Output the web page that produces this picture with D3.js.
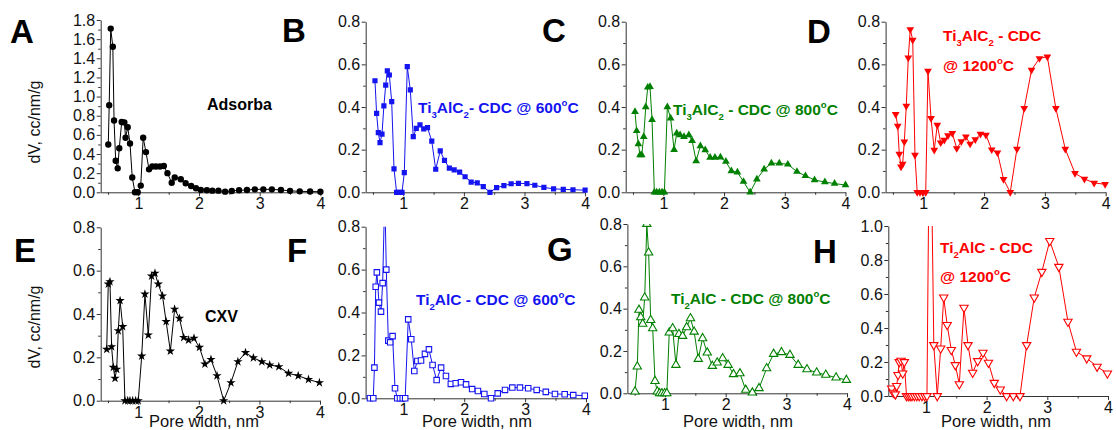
<!DOCTYPE html>
<html>
<head>
<meta charset="utf-8">
<script src="https://cdn.jsdelivr.net/npm/d3@7"></script>
<style>
  body { margin: 0; background: #fff; }
  svg { display: block; font-family: "Liberation Sans", Arial, sans-serif; }
  text { white-space: pre; }
</style>
</head>
<body>
<svg id="chart" width="1116" height="430"></svg>
<script>
// ----- data (pore width in nm, dV in cc/nm/g) -----

const adsorbaX = [0.505,0.52,0.545,0.58,0.60,0.627,0.66,0.686,0.726,0.77,0.79,0.825,0.863,0.90,0.945,0.99,1.04,1.08,1.126,1.176,1.23,1.29,1.357,1.42,1.48,1.55,1.60,1.70,1.78,1.87,1.95,2.03,2.13,2.22,2.32,2.43,2.54,2.66,2.79,2.92,3.06,3.20,3.35,3.50,3.66,3.83,4.0];
const adsorbaY = [0.50,0.91,1.71,1.52,0.75,0.33,0.25,0.46,0.735,0.73,0.57,0.68,0.51,0.155,0,0,0.07,0.57,0.42,0.24,0.27,0.27,0.27,0.275,0.20,0.10,0.155,0.136,0.094,0.066,0.042,0.024,0.021,0.017,0.017,0.007,0.014,0.021,0.024,0.031,0.031,0.031,0.024,0.015,0.01,0.008,0.006];

const ti3c600X = [0.533,0.56,0.588,0.616,0.649,0.68,0.71,0.737,0.77,0.809,0.847,0.89,0.935,0.979,1.017,1.066,1.116,1.165,1.215,1.276,1.337,1.40,1.47,1.535,1.61,1.68,1.76,1.84,1.93,2.02,2.12,2.22,2.32,2.43,2.54,2.66,2.78,2.90,3.04,3.17,3.32,3.48,3.64,3.80,4.0];
const ti3c600Y = [0.523,0.37,0.28,0.233,0.273,0.405,0.503,0.569,0.55,0.425,0.11,0,0,0,0.092,0.589,0.48,0.261,0.30,0.316,0.297,0.303,0.24,0.108,0.194,0.15,0.113,0.105,0.095,0.073,0.048,0.044,0.027,0,0.022,0.031,0.04,0.042,0.041,0.033,0.023,0.016,0.014,0.012,0.01];

const ti3c800X = [0.533,0.56,0.588,0.616,0.644,0.677,0.71,0.743,0.78,0.814,0.852,0.89,0.935,0.979,1.017,1.066,1.12,1.177,1.22,1.276,1.34,1.42,1.474,1.54,1.61,1.69,1.77,1.85,1.94,2.03,2.12,2.22,2.32,2.43,2.54,2.66,2.78,2.91,3.05,3.20,3.34,3.49,3.66,3.82,4.0];
const ti3c800Y = [0.378,0.288,0.227,0.175,0.175,0.261,0.40,0.492,0.495,0.34,0,0,0,0,0,0.40,0.347,0.20,0.277,0.269,0.261,0.269,0.242,0.147,0.217,0.198,0.163,0.163,0.164,0.144,0.10,0.094,0.05,0,0.061,0.108,0.136,0.136,0.131,0.097,0.077,0.058,0.048,0.041,0.034];

const ti3c1200X = [0.546,0.58,0.605,0.633,0.66,0.688,0.72,0.753,0.786,0.826,0.863,0.90,0.946,0.99,1.04,1.077,1.127,1.18,1.23,1.286,1.345,1.406,1.477,1.55,1.625,1.70,1.77,1.855,1.94,2.03,2.125,2.22,2.32,2.43,2.54,2.66,2.78,2.91,3.04,3.18,3.335,3.495,3.65,3.81,3.99];
const ti3c1200Y = [0.366,0.311,0.18,0.12,0.133,0.237,0.405,0.631,0.764,0.714,0.175,0,0,0,0,0.569,0.347,0.198,0.316,0.233,0.245,0.266,0.277,0.206,0.238,0.261,0.227,0.248,0.273,0.269,0.20,0.186,0.061,0,0.203,0.394,0.573,0.628,0.636,0.394,0.203,0.089,0.0625,0.044,0.0375];

const cxvX = [0.479,0.505,0.533,0.56,0.588,0.616,0.644,0.67,0.70,0.743,0.78,0.826,0.863,0.908,0.957,1.0,1.057,1.11,1.166,1.22,1.276,1.33,1.40,1.46,1.53,1.60,1.68,1.75,1.83,1.92,2.01,2.10,2.20,2.30,2.41,2.53,2.645,2.77,2.90,3.04,3.17,3.32,3.48,3.64,3.81,3.99];
const cxvY = [0.237,0.538,0.549,0.249,0.154,0.103,0.145,0.323,0.462,0.342,0,0,0,0,0,0,0.206,0.492,0.303,0.575,0.588,0.538,0.483,0.365,0.229,0.422,0.38,0.292,0.28,0.288,0.246,0.169,0.19,0.115,0,0.083,0.18,0.222,0.198,0.18,0.165,0.157,0.126,0.115,0.098,0.083];

const ti2c600X = [0.452,0.506,0.525,0.546,0.565,0.60,0.633,0.66,0.695,0.72,0.753,0.784,0.823,0.863,0.90,0.945,0.99,1.03,1.08,1.13,1.18,1.23,1.29,1.355,1.42,1.48,1.547,1.62,1.70,1.78,1.86,1.947,2.03,2.13,2.225,2.33,2.44,2.55,2.67,2.79,2.915,3.05,3.19,3.34,3.49,3.65,3.79,3.98];
const ti2c600Y = [0,0,0.143,0.52,0.587,0.446,0.404,0.537,0.95,0.60,0.269,0.261,0.29,0.047,0,0,0,0,0.368,0.275,0.127,0.174,0.176,0.207,0.228,0.155,0.085,0.143,0.104,0.067,0.07,0.075,0.065,0.043,0.034,0.02,0,0.023,0.039,0.05,0.05,0.047,0.039,0.03,0.02,0.019,0.015,0.012];

const ti2c800X = [0.505,0.543,0.571,0.60,0.632,0.665,0.70,0.73,0.764,0.797,0.835,0.873,0.91,0.95,0.994,1.03,1.07,1.126,1.18,1.23,1.29,1.357,1.42,1.48,1.548,1.62,1.696,1.78,1.86,1.95,2.04,2.13,2.235,2.33,2.44,2.55,2.675,2.79,2.92,3.06,3.195,3.34,3.50,3.65,3.82,3.99];
const ti2c800Y = [0.008,0.126,0.394,0.359,0.328,0.452,0.80,0.665,0.346,0.307,0.058,0.008,0,0,0,0,0.287,0.307,0.134,0.28,0.271,0.312,0.354,0.291,0.162,0.26,0.192,0.129,0.145,0.165,0.134,0.09,0.094,0.016,0.003,0.024,0.118,0.186,0.194,0.181,0.134,0.113,0.098,0.087,0.074,0.063];

const ti2c1200X = [0.436,0.462,0.495,0.518,0.54,0.56,0.59,0.617,0.644,0.68,0.71,0.74,0.77,0.81,0.85,0.89,0.935,0.98,1.017,1.066,1.13,1.187,1.243,1.293,1.35,1.418,1.484,1.55,1.627,1.693,1.77,1.853,1.94,2.03,2.126,2.225,2.33,2.44,2.55,2.66,2.785,2.91,3.04,3.19,3.34,3.48,3.65,3.82,3.99];
const ti2c1200Y = [0.045,0.02,0.01,0.059,0.124,0.20,0.208,0.133,0.20,0,0,0,0,0,0,0,0,0,0,2.0,0.30,0,0.28,0.58,0.418,0.271,0.182,0.07,0.52,0.30,0.137,0.206,0.255,0.196,0.078,0.039,0,0,0,0.30,0.58,0.731,0.912,0.76,0.437,0.261,0.222,0.173,0.133];

const xMajorTicks = [1, 2, 3, 4];
const xMinorTicks = [0.5, 1.5, 2.5, 3.5];

// ----- layout -----

const BLUE = "#1414f0", GREEN = "#008000", RED = "#ff0000", BLACK = "#000";

const triDown = {
  draw(ctx, size) {
    const y = -Math.sqrt(size / (Math.sqrt(3) * 3));
    ctx.moveTo(0, -2 * y);
    ctx.lineTo(-Math.sqrt(3) * y, y);
    ctx.lineTo(Math.sqrt(3) * y, y);
    ctx.closePath();
  }
};

const panels = [
  { letter: "A", xs: adsorbaX, ys: adsorbaY, left: 100.7, right: 320.4, top: 20, bottom: 192.3, yMax: 1.8,
    lx: 10, ly: 43, color: BLACK, sym: d3.symbolCircle, size: 32, open: false,
    notes: [{ t: "Adsorba", x: 207, y: 110, fs: 16 }] },
  { letter: "B", xs: ti3c600X, ys: ti3c600Y, left: 365.7, right: 585.1, top: 21.7, bottom: 192.3, yMax: 0.8,
    lx: 282, ly: 42, color: BLUE, sym: d3.symbolSquare, size: 27, open: false,
    notes: [{ t: "Ti_3AlC_2- CDC @ 600^oC", x: 418, y: 113, fs: 15.5 }] },
  { letter: "C", xs: ti3c800X, ys: ti3c800Y, left: 625.7, right: 845.5, top: 21.7, bottom: 192.3, yMax: 0.8,
    lx: 542, ly: 42, color: GREEN, sym: d3.symbolTriangle, size: 26, open: false,
    notes: [{ t: "Ti_3AlC_2 - CDC @ 800^oC", x: 673, y: 115, fs: 15.5 }] },
  { letter: "D", xs: ti3c1200X, ys: ti3c1200Y, left: 885.6, right: 1105.7, top: 21.7, bottom: 192.3, yMax: 0.8,
    lx: 807, ly: 43, color: RED, sym: triDown, size: 26, open: false,
    notes: [{ t: "Ti_3AlC_2 - CDC", x: 943, y: 41, fs: 15.5 }, { t: "@ 1200^oC", x: 943, y: 71, fs: 15.5 }] },
  { letter: "E", xs: cxvX, ys: cxvY, left: 100.7, right: 320, top: 227.3, bottom: 400.7, yMax: 0.8,
    lx: 14, ly: 262, color: BLACK, sym: d3.symbolStar, size: 27, open: false,
    notes: [{ t: "CXV", x: 205, y: 322, fs: 16 }] },
  { letter: "F", xs: ti2c600X, ys: ti2c600Y, left: 365.6, right: 586, top: 226.7, bottom: 398.3, yMax: 0.8,
    lx: 287, ly: 262, color: BLUE, sym: d3.symbolSquare, size: 30, open: true,
    notes: [{ t: "Ti_2AlC - CDC @ 600^oC", x: 416, y: 305, fs: 15.5 }] },
  { letter: "G", xs: ti2c800X, ys: ti2c800Y, left: 627.4, right: 847, top: 224, bottom: 393.3, yMax: 0.8,
    lx: 547, ly: 261, color: GREEN, sym: d3.symbolTriangle, size: 30, open: true,
    notes: [{ t: "Ti_2AlC - CDC @ 800^oC", x: 671, y: 304, fs: 15.5 }] },
  { letter: "H", xs: ti2c1200X, ys: ti2c1200Y, left: 888.3, right: 1108, top: 226, bottom: 396, yMax: 1.0,
    lx: 813, ly: 263, color: RED, sym: triDown, size: 30, open: true,
    notes: [{ t: "Ti_2AlC - CDC", x: 940, y: 253, fs: 15.5 }, { t: "@ 1200^oC", x: 940, y: 282, fs: 15.5 }] }
];

const svg = d3.select("#chart");
const defs = svg.append("defs");

// bold text with _x subscripts and ^x superscripts
function richText(g, str, x, y, fs, color) {
  const t = g.append("text").attr("x", x).attr("y", y)
    .attr("font-size", fs).attr("font-weight", "bold").attr("fill", color);
  let cur = 0;
  str.split(/([_^].)/).filter(s => s.length).forEach(s => {
    let off = 0, size = fs, txt = s;
    if (s[0] === "_") { off = fs * 0.32; size = fs * 0.62; txt = s[1]; }
    else if (s[0] === "^") { off = -fs * 0.45; size = fs * 0.62; txt = s[1]; }
    t.append("tspan").attr("dy", off - cur).attr("font-size", size).text(txt);
    cur = off;
  });
}

panels.forEach((p) => {
  const g = svg.append("g");
  const x = d3.scaleLinear().domain([0.38, 4]).range([p.left, p.right]);
  const y = d3.scaleLinear().domain([0, p.yMax]).range([p.bottom, p.top]);

  const yMajor = d3.range(0, p.yMax + 0.001, 0.2);
  const yMinor = d3.range(0.1, p.yMax, 0.2);

  // minor ticks
  g.append("g").attr("transform", `translate(${p.left},0)`)
    .call(d3.axisLeft(y).tickValues(yMinor).tickSize(2.5).tickFormat(""))
    .call(a => a.select(".domain").remove());
  g.append("g").attr("transform", `translate(0,${p.bottom})`)
    .call(d3.axisBottom(x).tickValues(xMinorTicks).tickSize(2.5).tickFormat(""))
    .call(a => a.select(".domain").remove());

  // major axes
  g.append("g").attr("transform", `translate(${p.left},0)`)
    .call(d3.axisLeft(y).tickValues(yMajor).tickSize(4).tickSizeOuter(0).tickPadding(1.5).tickFormat(d3.format(".1f")));
  g.append("g").attr("transform", `translate(0,${p.bottom})`)
    .call(d3.axisBottom(x).tickValues(xMajorTicks).tickSize(4).tickSizeOuter(0).tickPadding(1.5).tickFormat(d3.format("d")));

  g.selectAll(".tick text").attr("font-size", 16).attr("fill", "#111").attr("font-family", null);
  g.selectAll(".domain, .tick line").attr("stroke", "#333");

  // plotted series
  const clipId = "clip" + p.letter;
  defs.append("clipPath").attr("id", clipId).append("rect")
    .attr("x", p.left - 10).attr("y", p.top)
    .attr("width", p.right - p.left + 20).attr("height", p.bottom - p.top + 12);

  const pts = d3.zip(p.xs, p.ys);
  const plot = g.append("g").attr("clip-path", `url(#${clipId})`);

  plot.append("path")
    .datum(pts)
    .attr("fill", "none")
    .attr("stroke", p.color)
    .attr("stroke-width", 1)
    .attr("d", d3.line().x(d => x(d[0])).y(d => y(d[1])));

  plot.selectAll("path.mark")
    .data(pts)
    .join("path")
    .attr("class", "mark")
    .attr("transform", d => `translate(${x(d[0])},${y(d[1])})`)
    .attr("d", d3.symbol().type(p.sym).size(p.size))
    .attr("fill", p.open ? "#fff" : p.color)
    .attr("stroke", p.open ? p.color : "none")
    .attr("stroke-width", 1.1);

  // panel letter
  g.append("text").attr("x", p.lx).attr("y", p.ly)
    .attr("font-size", 33).attr("font-weight", "bold").text(p.letter);

  p.notes.forEach(n => richText(g, n.t, n.x, n.y, n.fs, p.color));
});

// axis titles
[122, 327].forEach(cy => {
  svg.append("text")
    .attr("transform", `translate(40,${cy}) rotate(-90)`)
    .attr("text-anchor", "middle").attr("font-size", 16).attr("fill", "#111")
    .text("dV, cc/nm/g");
});
[204, 477, 738, 996].forEach(cx => {
  svg.append("text")
    .attr("x", cx).attr("y", 427)
    .attr("text-anchor", "middle").attr("font-size", 16.5).attr("fill", "#111")
    .text("Pore width, nm");
});
</script>
</body>
</html>
